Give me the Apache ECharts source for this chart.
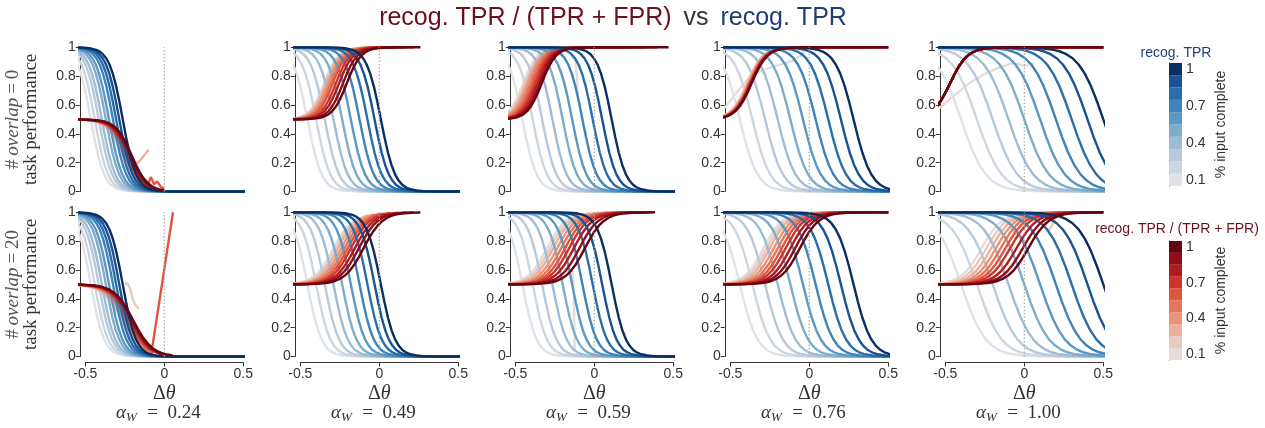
<!DOCTYPE html>
<html>
<head>
<meta charset="utf-8">
<script src="https://cdn.jsdelivr.net/npm/echarts@6/dist/echarts.min.js"></script>
<style>
  html, body { margin: 0; padding: 0; background: #fff; }
  #chart { width: 1265px; height: 428px; }
</style>
</head>
<body>
<div id="chart"></div>
<script>
// one blue and one red curve per "% input complete" shade
const SHADES = [0.1, 0.2, 0.3, 0.4, 0.5, 0.6, 0.7, 0.8, 0.9, 1.0];
const SHADE_LABELS = ['0.1', '0.2', '0.3', '0.4', '0.5', '0.6', '0.7', '0.8', '0.9', '1'];
const BLUE_COLORS = ['#dfe3e8', '#cdd6e0', '#b9c9da', '#9ebcd5', '#7eaccd', '#5b98c3', '#3f84b8', '#2a6ea9', '#185493', '#0b2f62'];
const RED_COLORS = ['#e5ddd9', '#e8cbbf', '#eab19c', '#e99478', '#e6765a', '#df5540', '#cf342b', '#b11b1f', '#8f0e17', '#660511'];

const ALPHA_W = ['0.24', '0.49', '0.59', '0.76', '1.00'];
const OVERLAP = ['0', '20'];

// sigmoid shape of the curves: offset (in curve widths) -> fraction still high
const SHAPE_T = [-40, -8, -6, -5, -4, -3.5, -3, -2.5, -2, -1.5, -1, -0.5, 0, 0.5, 1, 1.5, 2, 2.5, 3, 3.5, 4, 5, 6, 8, 40];
const SHAPE_Y = [1, 0.9997, 0.9975, 0.9933, 0.982, 0.9707, 0.9526, 0.9241, 0.8808, 0.8176, 0.7311, 0.6225, 0.5,
                 0.3775, 0.2689, 0.1824, 0.1192, 0.0759, 0.0474, 0.0293, 0.018, 0.0067, 0.0025, 0.0003, 0];

// recog. TPR: x where each curve is at 0.5, per column (same in both rows), and width
const BLUE_MID = [
  [-0.465, -0.44, -0.415, -0.395, -0.37, -0.35, -0.325, -0.305, -0.285, -0.263],
  [-0.455, -0.40, -0.345, -0.29, -0.235, -0.18, -0.125, -0.075, -0.03, 0.01],
  [-0.455, -0.39, -0.33, -0.265, -0.20, -0.14, -0.075, -0.01, 0.05, 0.11],
  [-0.44, -0.36, -0.28, -0.20, -0.12, -0.04, 0.04, 0.12, 0.20, 0.28],
  [-0.40, -0.30, -0.20, -0.10, 0.0, 0.10, 0.20, 0.30, 0.40, 0.50]
];
const BLUE_W = [0.042, 0.045, 0.045, 0.056, 0.078];

// recog. TPR / (TPR + FPR): half-way x of each curve, width, last x drawn
// column 1 falls from 0.5 to 0, the others rise from 0.5 to 1
const RED_MID = [
  [
    [-0.265, -0.26, -0.255, -0.25, -0.245, -0.24, -0.232, -0.224, -0.215, -0.206],
    [-0.35, -0.345, -0.335, -0.325, -0.31, -0.295, -0.275, -0.255, -0.23, -0.206],
    [-0.45, -0.44, -0.43, -0.42, -0.405, -0.39, -0.375, -0.36, -0.345, -0.333],
    [null, -0.395, -0.39, -0.385, -0.38, -0.377, -0.374, -0.371, -0.368, -0.365],
    [null, -0.47, -0.47, -0.47, -0.47, -0.47, -0.47, -0.47, -0.47, -0.47]
  ],
  [
    [-0.27, -0.265, -0.26, -0.25, -0.24, -0.23, -0.22, -0.21, -0.203, -0.196],
    [-0.29, -0.275, -0.26, -0.24, -0.22, -0.20, -0.18, -0.155, -0.13, -0.10],
    [-0.30, -0.28, -0.26, -0.235, -0.21, -0.185, -0.16, -0.13, -0.095, -0.06],
    [-0.29, -0.27, -0.25, -0.225, -0.20, -0.175, -0.15, -0.12, -0.09, -0.06],
    [-0.27, -0.24, -0.21, -0.18, -0.15, -0.12, -0.09, -0.05, -0.01, 0.025]
  ]
];
const RED_W = [
  [0.05, 0.045, 0.045, 0.05, 0.055],
  [0.06, 0.06, 0.06, 0.06, 0.065]
];
const RED_END = [
  [
    [-0.16, -0.14, -0.12, -0.10, -0.08, -0.06, -0.05, -0.03, -0.02, 0.0],
    [-0.2, -0.13, -0.08, -0.03, 0.02, 0.07, 0.12, 0.17, 0.215, 0.26],
    [-0.1, -0.03, 0.03, 0.09, 0.15, 0.21, 0.27, 0.33, 0.40, 0.47],
    [null, 0.0, 0.08, 0.16, 0.24, 0.32, 0.40, 0.5, 0.5, 0.5],
    [null, 0.5, 0.5, 0.5, 0.5, 0.5, 0.5, 0.5, 0.5, 0.5]
  ],
  [
    [-0.14, -0.12, -0.10, -0.08, -0.07, -0.08, -0.02, 0.0, 0.03, 0.055],
    [-0.2, -0.13, -0.08, -0.03, 0.02, 0.07, 0.12, 0.17, 0.215, 0.26],
    [-0.1, -0.03, 0.03, 0.09, 0.15, 0.21, 0.27, 0.33, 0.36, 0.385],
    [0.0, 0.08, 0.16, 0.24, 0.32, 0.40, 0.5, 0.5, 0.5, 0.5],
    [0.05, 0.15, 0.25, 0.35, 0.5, 0.5, 0.5, 0.5, 0.5, 0.5]
  ]
];

// ragged red pieces: [row, col, shade index, points]
const RED_PIECES = [
  [0, 0, 2, [[-0.21, 0.17], [-0.18, 0.19], [-0.15, 0.22], [-0.12, 0.26], [-0.1, 0.29]]],
  [0, 0, 5, [[-0.11, 0.03], [-0.085, 0.1], [-0.065, 0.05], [-0.045, 0.07], [-0.02, 0.03], [0.0, 0.02]]],
  [0, 2, 0, [[-0.2, 0.99], [-0.15, 0.96], [-0.12, 0.9], [-0.11, 0.8], [-0.105, 0.67]]],
  [0, 3, 0, [[-0.535, 0.58], [-0.45, 0.7], [-0.38, 0.79], [-0.3, 0.84], [-0.22, 0.87], [-0.15, 0.89], [-0.1, 0.91], [-0.05, 0.945], [-0.03, 0.98]]],
  [0, 4, 0, [[-0.535, 0.58], [-0.45, 0.66], [-0.35, 0.75], [-0.26, 0.81], [-0.17, 0.855], [-0.09, 0.885], [-0.04, 0.885], [0.0, 0.87], [0.03, 0.885], [0.06, 0.89]]],
  [1, 0, 5, [[-0.075, 0.07], [0.055, 1.0]]],
  [1, 0, 1, [[-0.25, 0.5], [-0.235, 0.51], [-0.215, 0.47], [-0.2, 0.4], [-0.185, 0.36], [-0.16, 0.33]]],
  [1, 2, 0, [[-0.14, 0.6], [-0.13, 0.45], [-0.127, 0.25], [-0.124, 0.05]]],
  [1, 4, 1, [[0.08, 0.99], [0.11, 0.97], [0.152, 0.865], [0.205, 0.97], [0.22, 0.99]]],
  [1, 4, 0, [[-0.1, 0.9], [-0.06, 0.86], [-0.02, 0.8], [0.01, 0.78]]]
];

// dotted reference line at Δθ = 0, drawn over the full y range
const ZERO_LINE = [[0, 0], [0, 1]];

const X_LO = -0.535;

// layout (pixels)
const COL_X0 = 85.3, COL_STEP = 215, UNIT_X = 158;
const ROW_Y1 = [47.3, 212.3], UNIT_Y = 144.2;
const Y_PAD = 0.04;
const CB_LEFT = 1169, CB_W = 13, CB_TOP = [63, 241], CB_H = [123, 119];
const TXT = '#333';
const SANS = "'Liberation Sans', Arial, sans-serif";
const SERIF = "'Liberation Serif', 'DejaVu Serif', serif";

function px(col, v) { return COL_X0 + col * COL_STEP + (v + 0.5) * UNIT_X; }

function sigmoid(mid, w, lo, hi, xEnd) {
  const pts = [];
  for (let k = 0; k < SHAPE_T.length; k++) {
    const x = mid + SHAPE_T[k] * w;
    const y = lo + (hi - lo) * SHAPE_Y[k];
    if (xEnd != null && x >= xEnd) { pts.push([xEnd, y]); break; }
    pts.push([x, y]);
  }
  return pts;
}

function lineSeries(gi, data, color, z) {
  return {
    type: 'line', xAxisIndex: gi, yAxisIndex: gi, data: data,
    showSymbol: false, symbol: 'none', silent: true, clip: true, z: z,
    lineStyle: { color: color, width: 2.4 }
  };
}

const grid = [], xAxis = [], yAxis = [], series = [], graphic = [];

for (let r = 0; r < 2; r++) {
  for (let c = 0; c < 5; c++) {
    const gi = grid.length;
    // grid that holds the curves
    grid.push({
      left: px(c, X_LO), width: px(c, 0.5) - px(c, X_LO),
      top: ROW_Y1[r] - Y_PAD * UNIT_Y, height: (1 + 2 * Y_PAD) * UNIT_Y,
      outerBoundsMode: 'none'
    });
    xAxis.push({ gridIndex: gi, type: 'value', min: X_LO, max: 0.5, show: false });
    yAxis.push({ gridIndex: gi, type: 'value', min: -Y_PAD, max: 1 + Y_PAD, show: false });

    // grid that carries the visible (trimmed) axes
    const ai = grid.length;
    grid.push({ left: px(c, -0.5), width: UNIT_X, top: ROW_Y1[r], height: UNIT_Y, outerBoundsMode: 'none' });
    xAxis.push({
      gridIndex: ai, type: 'value', min: -0.5, max: 0.5, interval: 0.5,
      show: r === 1, offset: 6,
      axisLine: { show: true, onZero: false, lineStyle: { color: TXT, width: 1 } },
      axisTick: { show: true, length: 4, lineStyle: { color: TXT } },
      axisLabel: { fontSize: 14, color: TXT, fontFamily: SANS, margin: 5 },
      splitLine: { show: false },
      name: '{d|Δ}{t|θ}', nameLocation: 'middle', nameGap: 21,
      nameTextStyle: {
        rich: {
          d: { fontFamily: SERIF, fontSize: 20, color: TXT },
          t: { fontFamily: SERIF, fontSize: 20, fontStyle: 'italic', color: TXT }
        }
      }
    });
    const yA = {
      gridIndex: ai, type: 'value', min: 0, max: 1, interval: 0.2,
      offset: px(c, -0.5) - px(c, X_LO),
      axisLine: { show: true, onZero: false, lineStyle: { color: TXT, width: 1 } },
      axisTick: { show: true, length: 4, lineStyle: { color: TXT } },
      axisLabel: { fontSize: 14, color: TXT, fontFamily: SANS, margin: 4 },
      splitLine: { show: false }
    };
    if (c === 0) {
      yA.name = '{h|#\u2009}{i|overlap}{h|\u2009=\u2009' + OVERLAP[r] + '}\n{t|task performance}';
      yA.nameLocation = 'middle';
      yA.nameRotate = 90;
      yA.nameGap = 40;
      yA.nameTextStyle = {
        rich: {
          h: { fontFamily: SERIF, fontSize: 19, color: '#555', lineHeight: 18 },
          i: { fontFamily: SERIF, fontSize: 19, fontStyle: 'italic', color: '#555', lineHeight: 18 },
          t: { fontFamily: SERIF, fontSize: 19, color: TXT, lineHeight: 18 }
        }
      };
    }
    yAxis.push(yA);

    // curves, light shades first, blue and red of the same shade together
    let z = 2;
    for (let i = 0; i < SHADES.length; i++) {
      series.push(lineSeries(gi, sigmoid(BLUE_MID[c][i], BLUE_W[c], 0, 1, null), BLUE_COLORS[i], z++));
      const mid = RED_MID[r][c][i];
      if (mid != null) {
        const data = c === 0
          ? sigmoid(mid, RED_W[r][c], 0, 0.5, RED_END[r][c][i])
          : sigmoid(mid, RED_W[r][c], 1, 0.5, RED_END[r][c][i]);
        series.push(lineSeries(gi, data, RED_COLORS[i], z++));
      }
      RED_PIECES.forEach(function (p) {
        if (p[0] === r && p[1] === c && p[2] === i) {
          series.push(lineSeries(gi, p[3], RED_COLORS[i], z++));
        }
      });
    }

    series.push({
      type: 'line', xAxisIndex: ai, yAxisIndex: ai, data: ZERO_LINE, silent: true, z: 60,
      showSymbol: false, symbol: 'none',
      lineStyle: { color: '#a8a8a8', type: [1.5, 2], width: 1.2 }
    });

    if (r === 1) {
      graphic.push({
        type: 'text', x: px(c, 0) - 6, y: 413,
        style: {
          text: '{a|α}{s|W}{n|\u2002=\u2002' + ALPHA_W[c] + '}',
          textAlign: 'center', align: 'center', textVerticalAlign: 'middle', verticalAlign: 'middle',
          rich: {
            a: { fontFamily: SERIF, fontSize: 19, fontStyle: 'italic', fill: TXT, color: TXT },
            s: { fontFamily: SERIF, fontSize: 13, fontStyle: 'italic', fill: TXT, color: TXT, padding: [9, 1, 0, 0] },
            n: { fontFamily: SERIF, fontSize: 19, fill: TXT, color: TXT }
          }
        }
      });
    }
  }
}

// colour bars
[BLUE_COLORS, RED_COLORS].forEach(function (colors, b) {
  const gi = grid.length;
  const showIdx = function (idx) { return idx % 3 === 0; };
  grid.push({ left: CB_LEFT, width: CB_W, top: CB_TOP[b], height: CB_H[b], outerBoundsMode: 'none' });
  xAxis.push({ gridIndex: gi, type: 'value', min: 0, max: 1, show: false });
  yAxis.push({
    gridIndex: gi, type: 'category', data: SHADE_LABELS, position: 'right',
    axisLine: { show: true, lineStyle: { color: TXT, width: 1 } },
    axisTick: { show: true, alignWithLabel: true, interval: showIdx, length: 3, lineStyle: { color: TXT } },
    axisLabel: { interval: showIdx, fontSize: 14, color: TXT, fontFamily: SANS, margin: 4 },
    name: '% input complete', nameLocation: 'middle', nameRotate: 90, nameGap: 32,
    nameTextStyle: { fontSize: 14, color: TXT, fontFamily: SANS }
  });
  series.push({
    type: 'bar', xAxisIndex: gi, yAxisIndex: gi, barWidth: '100%', silent: true,
    data: colors.map(function (col) { return { value: 1, itemStyle: { color: col } }; })
  });
});

graphic.push({
  type: 'text', x: 613, y: 18,
  style: {
    text: '{r|recog. TPR / (TPR + FPR)}{k|\u2009 vs \u2009}{b|recog. TPR}',
    textAlign: 'center', align: 'center', textVerticalAlign: 'middle', verticalAlign: 'middle',
    rich: {
      r: { fontFamily: SANS, fontSize: 25, fill: '#6b0f1a', color: '#6b0f1a' },
      k: { fontFamily: SANS, fontSize: 25, fill: TXT, color: TXT },
      b: { fontFamily: SANS, fontSize: 25, fill: '#1d3f73', color: '#1d3f73' }
    }
  }
});
graphic.push({
  type: 'text', x: 1176, y: 53,
  style: { text: 'recog. TPR', textAlign: 'center', align: 'center', textVerticalAlign: 'middle', verticalAlign: 'middle',
           fontFamily: SANS, fontSize: 14, fill: '#1d3f73' }
});
graphic.push({
  type: 'text', x: 1177, y: 229,
  style: { text: 'recog. TPR / (TPR + FPR)', textAlign: 'center', align: 'center', textVerticalAlign: 'middle', verticalAlign: 'middle',
           fontFamily: SANS, fontSize: 14, fill: '#6b0f1a' }
});

const chart = echarts.init(document.getElementById('chart'), null, { renderer: 'canvas' });
chart.setOption({
  animation: false,
  backgroundColor: '#fff',
  grid: grid,
  xAxis: xAxis,
  yAxis: yAxis,
  series: series,
  graphic: graphic
});
</script>
</body>
</html>
